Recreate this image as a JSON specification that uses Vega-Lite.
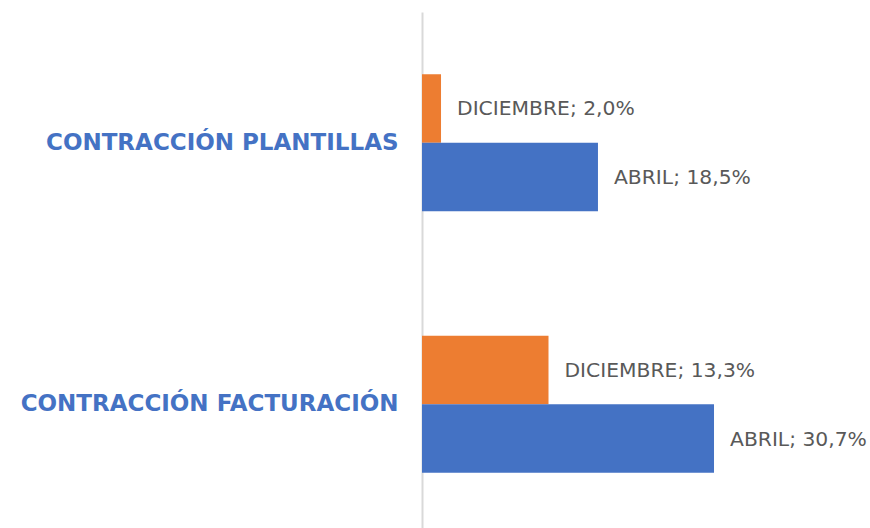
{
  "$schema": "https://vega.github.io/schema/vega-lite/v6.json",
  "autosize": "none",
  "width": 448,
  "height": 523,
  "padding": {"left": 422, "top": 12, "right": 0, "bottom": 0},
  "background": "white",
  "config": {"view": {"stroke": null}},
  "data": {
    "values": [
      {"categoria": "CONTRACCIÓN PLANTILLAS", "serie": "DICIEMBRE", "valor": 2.0, "etiqueta": "DICIEMBRE; 2,0%"},
      {"categoria": "CONTRACCIÓN PLANTILLAS", "serie": "ABRIL", "valor": 18.5, "etiqueta": "ABRIL; 18,5%"},
      {"categoria": "CONTRACCIÓN FACTURACIÓN", "serie": "DICIEMBRE", "valor": 13.3, "etiqueta": "DICIEMBRE; 13,3%"},
      {"categoria": "CONTRACCIÓN FACTURACIÓN", "serie": "ABRIL", "valor": 30.7, "etiqueta": "ABRIL; 30,7%"}
    ]
  },
  "encoding": {
    "y": {
      "field": "categoria",
      "type": "nominal",
      "sort": ["CONTRACCIÓN PLANTILLAS", "CONTRACCIÓN FACTURACIÓN"],
      "scale": {"paddingInner": 0.476, "paddingOuter": 0.238},
      "axis": {
        "title": null,
        "ticks": false,
        "labelPadding": 24,
        "labelFont": "DejaVu Sans",
        "labelFontSize": 23,
        "labelFontWeight": "bold",
        "labelColor": "#4472C4",
        "labelLimit": 420,
        "domainColor": "#D9D9D9",
        "domainWidth": 2
      }
    },
    "yOffset": {
      "field": "serie",
      "type": "nominal",
      "sort": ["DICIEMBRE", "ABRIL"],
      "scale": {"paddingInner": 0, "paddingOuter": 0}
    },
    "x": {
      "field": "valor",
      "type": "quantitative",
      "scale": {"domain": [0, 47.1], "nice": false},
      "axis": null
    }
  },
  "layer": [
    {
      "mark": {"type": "bar"},
      "encoding": {
        "color": {
          "field": "serie",
          "type": "nominal",
          "scale": {"domain": ["DICIEMBRE", "ABRIL"], "range": ["#ED7D31", "#4472C4"]},
          "legend": null
        }
      }
    },
    {
      "mark": {"type": "text", "align": "left", "baseline": "middle", "dx": 16, "dy": 1, "font": "DejaVu Sans", "fontSize": 20.3, "color": "#595959"},
      "encoding": {
        "text": {"field": "etiqueta"}
      }
    }
  ]
}
